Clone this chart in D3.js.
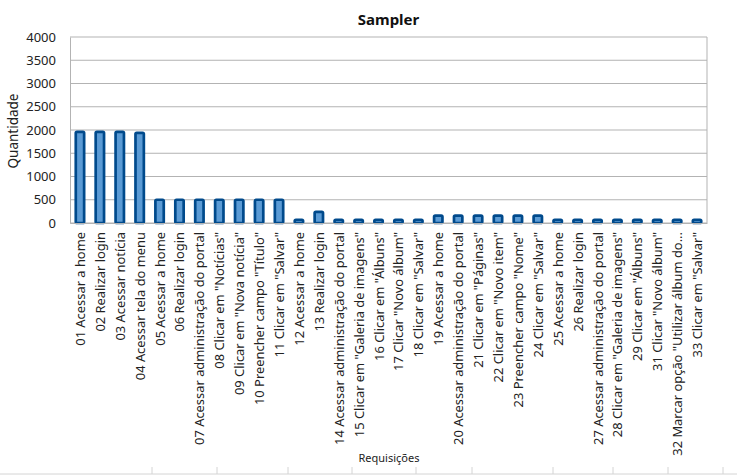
<!DOCTYPE html>
<html>
<head>
<meta charset="utf-8">
<script src="https://cdn.jsdelivr.net/npm/d3@7"></script>
<style>
  body { margin: 0; background: #fff; }
  svg { display: block; font-family: "Noto Sans", "Open Sans", sans-serif; }
</style>
</head>
<body>
<svg id="drawing_region"></svg>
<script>
// requisições (no. 30 is not in the sheet)
const categories = [
    '01 Acessar a home', '02 Realizar login', '03 Acessar notícia', '04 Acessar tela do menu',
    '05 Acessar a home', '06 Realizar login', '07 Acessar administração do portal',
    '08 Clicar em "Notícias"', '09 Clicar em "Nova notícia"', '10 Preencher campo "Título"',
    '11 Clicar em "Salvar"', '12 Acessar a home', '13 Realizar login',
    '14 Acessar administração do portal', '15 Clicar em "Galeria de imagens"',
    '16 Clicar em "Álbuns"', '17 Clicar "Novo álbum"', '18 Clicar em "Salvar"',
    '19 Acessar a home', '20 Acessar administração do portal', '21 Clicar em "Páginas"',
    '22 Clicar em "Novo item"', '23 Preencher campo "Nome"', '24 Clicar em "Salvar"',
    '25 Acessar a home', '26 Realizar login', '27 Acessar administração do portal',
    '28 Clicar em "Galeria de imagens"', '29 Clicar em "Álbuns"', '31 Clicar "Novo álbum"',
    '32 Marcar opção "Utilizar álbum do...', '33 Clicar em "Salvar"'
];
const quantidade = [
    1960, 1960, 1960, 1940,
    500, 500, 500, 500, 500, 500, 500,
    70, 240, 70, 70, 70, 70, 70,
    160, 160, 160, 160, 160, 160,
    70, 70, 70, 70, 70, 70, 70, 70
];
const yTicks = [0, 500, 1000, 1500, 2000, 2500, 3000, 3500, 4000];
// sheet cell borders visible under the chart
const cellBorders = [152, 217, 288, 352, 416, 472, 553, 613, 668, 723];

const config = {
    width: 737,
    height: 475,
    margin: {top: 37, right: 30, bottom: 252, left: 70}
};

const svg = d3.select('#drawing_region')
    .attr('width', config.width)
    .attr('height', config.height);

const inner_width = config.width - config.margin.left - config.margin.right;
const inner_height = config.height - config.margin.top - config.margin.bottom;

const chart = svg.append('g')
    .attr('transform', `translate(${config.margin.left}, ${config.margin.top})`);

const xscale = d3.scaleBand()
    .domain(categories)
    .range([0, inner_width])
    .paddingInner(0)
    .paddingOuter(0);

const yscale = d3.scaleLinear()
    .domain([0, 4000])
    .range([inner_height, 0]);

// gridlines
chart.append('g')
    .selectAll('line')
    .data(yTicks)
    .join('line')
    .attr('x1', 0)
    .attr('x2', inner_width)
    .attr('y1', d => yscale(d))
    .attr('y2', d => yscale(d))
    .attr('stroke', '#b3b3b3')
    .attr('stroke-width', 1);

chart.append('line')
    .attr('x1', inner_width).attr('x2', inner_width)
    .attr('y1', 0).attr('y2', inner_height)
    .attr('stroke', '#b3b3b3');

// bars
const bar_w = xscale.bandwidth() * 0.42;
chart.append('g')
    .selectAll('rect')
    .data(quantidade)
    .join('rect')
    .attr('x', (d, i) => xscale(categories[i]) + (xscale.bandwidth() - bar_w) / 2)
    .attr('y', d => yscale(d))
    .attr('width', bar_w)
    .attr('height', d => inner_height - yscale(d))
    .attr('rx', 1.2)
    .attr('fill', '#5b9bd5')
    .attr('stroke', '#004a8c')
    .attr('stroke-width', 2.7);

// y axis
const yaxis = d3.axisLeft(yscale)
    .tickValues(yTicks)
    .tickFormat(d3.format('d'))
    .tickSize(0)
    .tickPadding(14);

chart.append('g')
    .call(yaxis)
    .call(g => g.select('.domain').attr('stroke', '#b3b3b3'))
    .selectAll('text')
    .attr('font-family', '"Noto Sans", sans-serif')
    .attr('font-size', '13px')
    .attr('fill', '#222');

// x axis
const xaxis = d3.axisBottom(xscale).tickSize(0).tickPadding(0);

chart.append('g')
    .attr('transform', `translate(0, ${inner_height})`)
    .call(xaxis)
    .call(g => g.select('.domain').attr('stroke', '#b3b3b3'))
    .selectAll('text')
    .attr('font-family', '"Noto Sans", sans-serif')
    .attr('font-size', '12.9px')
    .attr('fill', '#222')
    .attr('text-anchor', 'end')
    .attr('dy', null)
    .attr('transform', 'translate(5, 9) rotate(-90)');

// titles
svg.append('text')
    .attr('x', config.margin.left + inner_width / 2)
    .attr('y', 25)
    .attr('text-anchor', 'middle')
    .attr('font-size', '15px')
    .attr('font-weight', 'bold')
    .attr('fill', '#111')
    .text('Sampler');

svg.append('text')
    .attr('transform', `translate(18, ${config.margin.top + 94}) rotate(-90)`)
    .attr('text-anchor', 'middle')
    .attr('font-size', '13.5px')
    .attr('fill', '#222')
    .text('Quantidade');

svg.append('text')
    .attr('x', 389)
    .attr('y', 462)
    .attr('text-anchor', 'middle')
    .attr('font-size', '11px')
    .attr('fill', '#222')
    .text('Requisições');

// spreadsheet grid under the chart
svg.append('line')
    .attr('x1', 0).attr('x2', config.width)
    .attr('y1', 474).attr('y2', 474)
    .attr('stroke', '#d4d4d4');

svg.append('g')
    .selectAll('line')
    .data(cellBorders)
    .join('line')
    .attr('x1', d => d).attr('x2', d => d)
    .attr('y1', 467).attr('y2', 474)
    .attr('stroke', '#d4d4d4');
</script>
</body>
</html>
